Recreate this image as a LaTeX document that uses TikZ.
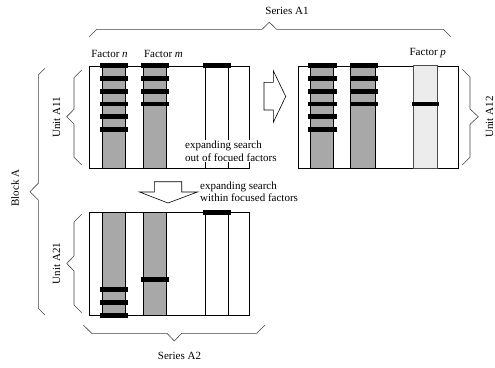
\documentclass[tikz,border=0pt]{standalone}
\usepackage{fontspec}
\setmainfont{Liberation Serif}
\definecolor{colgray}{HTML}{A8A8A8}
\definecolor{lightcol}{HTML}{ECECEC}
\definecolor{bracegray}{HTML}{444444}
\newcommand\barat[3]{\fill (#1,#3-2.4) rectangle (#2,#3+2.4);}
\begin{document}
\begin{tikzpicture}[x=1pt,y=-1pt,
  lbl/.style={font=\fontsize{11}{12.5}\selectfont, inner sep=1pt},
  box/.style={draw, line width=0.8pt, minimum width=160pt, inner sep=0pt, anchor=north west},
  col/.style={draw, line width=0.8pt},
  brace/.style={draw=bracegray, line width=0.6pt},
  blockarrow/.style={draw, fill=white, line width=0.6pt, line join=miter}]
\useasboundingbox (0,0) rectangle (495,367);

% ---- Box 1 (Unit A11) ----
\node[box, minimum height=102.6pt] (b1) at (89.3,65.7) {};
\filldraw[col, fill=colgray] (102.3,65.7) rectangle (125.7,168.3);
\filldraw[col, fill=colgray] (143.7,65.7) rectangle (166.7,168.3);
\draw[col] (205.3,65.7) -- (205.3,168.3) (228.7,65.7) -- (228.7,168.3);
\foreach \y in {65.7,78.7,91.3,104,116.7,129.7} {\barat{100}{128}{\y}}
\foreach \y in {65.7,78.7,91.3,104} {\barat{141}{169.3}{\y}}
\barat{203.3}{230.7}{65.7}

% ---- Box 2 (Unit A12) ----
\node[box, minimum height=102.6pt] (b2) at (298.3,65.7) {};
\filldraw[col, fill=colgray] (310.3,65.7) rectangle (333.7,168.3);
\filldraw[col, fill=colgray] (350.3,65.7) rectangle (375.3,168.3);
\filldraw[col, fill=lightcol, draw=black!70] (413.7,65.7) rectangle (437,168.3);
\foreach \y in {65.7,78.7,91.3,104,116.7,129.7} {\barat{308.3}{336.7}{\y}}
\foreach \y in {65.7,78.7,91.3,104} {\barat{349.7}{377.7}{\y}}
\barat{411.7}{439.3}{104}

% ---- Box 3 (Unit A21) ----
\node[box, minimum height=103pt] (b3) at (89.3,212.3) {};
\filldraw[col, fill=colgray] (102.3,212.3) rectangle (125.7,315.3);
\filldraw[col, fill=colgray] (143.7,212.3) rectangle (166.7,315.3);
\draw[col] (205.3,212.3) -- (205.3,315.3) (228.7,212.3) -- (228.7,315.3);
\foreach \y in {289.3,302.3,315.3} {\barat{100}{128}{\y}}
\barat{141}{169.3}{279.3}
\barat{203.3}{230.7}{212.3}

% ---- factor labels ----
\node[lbl] (fn) at (109.5,53.5) {Factor \textit{n}};
\node[lbl] (fm) at (163.5,53.5) {Factor \textit{m}};
\node[lbl] (fp) at (427.8,53.5) {Factor \textit{p}};

% ---- search texts ----
\node[lbl, fill=white, align=left, anchor=west] (t1) at (184,151) {expanding search\\out of focued factors};
\node[lbl, align=left, anchor=west] (t2) at (199,191.7) {expanding search\\within focused factors};

% ---- block arrows ----
\draw[blockarrow] (264,82.3) -- (273.3,82.3) -- (273.3,70.7) -- (285.7,96.5) -- (273.3,122.3) -- (273.3,110) -- (264,110) -- cycle;
\draw[blockarrow] (154.3,181.7) -- (181.7,181.7) -- (181.7,192) -- (197.5,192) -- (168,203) -- (139.5,192) -- (154.3,192) -- cycle;

% ---- braces ----
\draw[brace] (89.3,36.7) -- (96.7,29.3) -- (262,29.3) -- (269.3,22.3) -- (276.6,29.3) -- (443.3,29.3) -- (450.7,36.7);
\draw[brace] (81.7,70) -- (74,77.7) -- (74,109.3) -- (66.7,116.7) -- (74,124) -- (74,157.3) -- (81.7,165);
\draw[brace] (45,68.3) -- (38.3,75) -- (38.3,183.3) -- (30,191.7) -- (38.3,200) -- (38.3,308.3) -- (45,315);
\draw[brace] (81.7,214.3) -- (74,222) -- (74,256) -- (66.7,263.5) -- (74,271) -- (74,305) -- (81.7,312.7);
\draw[brace] (462.3,69.3) -- (470,77) -- (470,109) -- (478.3,116.7) -- (470,124.3) -- (470,157.3) -- (462.3,165);
\draw[brace] (83.3,325) -- (91.7,333.3) -- (167,333.3) -- (174.3,341) -- (181.6,333.3) -- (256.7,333.3) -- (265,325);

% ---- brace labels ----
\node[lbl] (sa1) at (287,10.5) {Series A1};
\node[lbl] (sa2) at (179.5,355.5) {Series A2};
\node[lbl, rotate=90] (ua11) at (56.5,117.5) {Unit A11};
\node[lbl, rotate=90] (ua21) at (56.5,263.5) {Unit A21};
\node[lbl, rotate=90] (ua12) at (489.5,117) {Unit A12};
\node[lbl, rotate=90] (bla) at (15,188) {Block A};
\end{tikzpicture}
\end{document}
